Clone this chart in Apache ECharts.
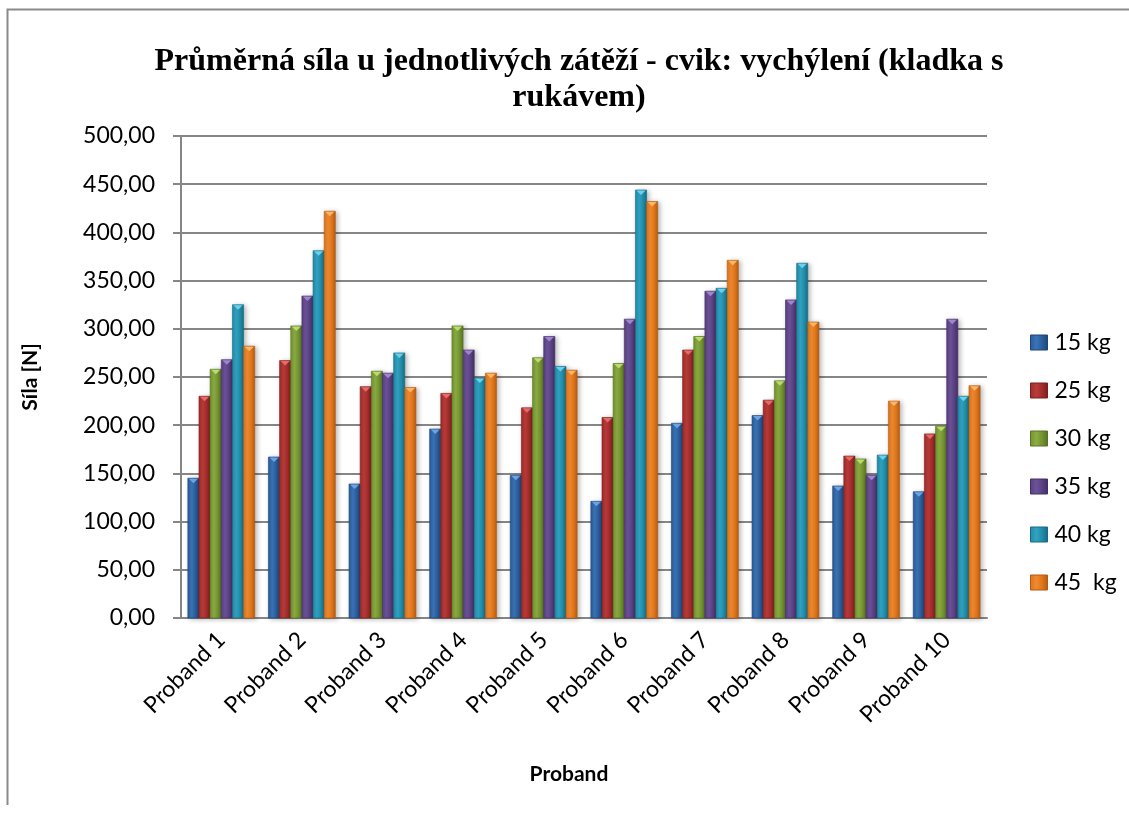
<!DOCTYPE html>
<html>
<head>
<meta charset="utf-8">
<script src="https://cdn.jsdelivr.net/npm/echarts@6/dist/echarts.min.js"></script>
<style>
  html, body { margin: 0; padding: 0; background: #ffffff; }
  #chart { width: 1129px; height: 815px; }
</style>
</head>
<body>
<div id="chart"></div>
<script>
// Categories and tick labels
const probands = ['Proband 1', 'Proband 2', 'Proband 3', 'Proband 4', 'Proband 5',
                  'Proband 6', 'Proband 7', 'Proband 8', 'Proband 9', 'Proband 10'];
const seriesNames = ['15 kg', '25 kg', '30 kg', '35 kg', '40 kg', '45  kg'];

// Average force [N] per load
const load15 = [145, 167, 139, 196, 148, 121, 202, 210, 137, 131];
const load25 = [230, 267, 240, 233, 218, 208, 278, 226, 168, 191];
const load30 = [258, 303, 256, 303, 270, 264, 292, 246, 165, 199];
const load35 = [268, 334, 254, 278, 292, 310, 339, 330, 148, 310];
const load40 = [325, 381, 275, 249, 261, 444, 342, 368, 169, 230];
const load45 = [282, 422, 239, 254, 257, 432, 371, 307, 225, 241];

// Bevelled bar palette: [edge, light, dark, cap]
const palettes = [
  ['#2a5b98', '#3b74b8', '#1f4575', '#6aa3e6'],
  ['#9e2c2b', '#bb3b39', '#7a1f1f', '#e76a68'],
  ['#72912f', '#8bad42', '#587224', '#b9dc6a'],
  ['#584080', '#6d529a', '#432f63', '#a184d0'],
  ['#218aa6', '#31a4c3', '#186b82', '#68d2ee'],
  ['#dc741b', '#f08a30', '#b35b12', '#ffb565']
];

const values = [load15, load25, load30, load35, load40, load45];

// Share of a category band taken by one bar cluster
const clusterShare = 0.83;

function barFill(p) {
  return new echarts.graphic.LinearGradient(0, 0, 1, 0, [
    { offset: 0, color: p[0] },
    { offset: 0.35, color: p[1] },
    { offset: 0.7, color: p[0] },
    { offset: 1, color: p[2] }
  ]);
}

function makeRenderer(si) {
  const p = palettes[si];
  const n = values.length;
  return function (params, api) {
    const cat = api.value(0);
    const val = api.value(1);
    const base = api.coord([cat, 0]);
    const top = api.coord([cat, val]);
    const band = api.size([1, 0])[0];
    const groupW = band * clusterShare;
    const bw = groupW / n;
    const x0 = base[0] - groupW / 2 + si * bw;
    const h = base[1] - top[1];
    const capH = Math.min(5, h);
    return {
      type: 'group',
      children: [
        {
          type: 'rect',
          shape: { x: x0, y: top[1], width: bw, height: h },
          style: {
            fill: barFill(p),
            stroke: p[2],
            lineWidth: 0.6,
            shadowColor: 'rgba(0,0,0,0.28)',
            shadowBlur: 5,
            shadowOffsetX: 2,
            shadowOffsetY: 1
          }
        },
        {
          type: 'polygon',
          shape: {
            points: [
              [x0 + 1, top[1] + 0.5],
              [x0 + bw - 1, top[1] + 0.5],
              [x0 + bw / 2, top[1] + capH]
            ]
          },
          style: { fill: p[3] }
        }
      ]
    };
  };
}

const chart = echarts.init(document.getElementById('chart'), null, { renderer: 'canvas' });

const series = values.map((v, i) => ({
  name: seriesNames[i],
  type: 'custom',
  renderItem: makeRenderer(i),
  encode: { x: 0, y: 1 },
  itemStyle: { color: palettes[i][1] },
  data: v.map((val, k) => [k, val])
}));

chart.setOption({
  backgroundColor: '#ffffff',
  animation: false,
  title: {
    text: 'Průměrná síla u jednotlivých zátěží - cvik: vychýlení (kladka s\nrukávem)',
    left: 574,
    textAlign: 'center',
    top: 39,
    textStyle: {
      fontFamily: 'Liberation Serif',
      fontWeight: 'bold',
      fontSize: 32,
      lineHeight: 36,
      color: '#000000'
    }
  },
  legend: {
    orient: 'vertical',
    left: 1025,
    top: 326,
    itemWidth: 17,
    itemHeight: 15,
    itemGap: 25,
    icon: 'rect',
    data: seriesNames.map((n, i) => ({
      name: n,
      itemStyle: { color: barFill(palettes[i]), borderColor: palettes[i][2], borderWidth: 1 }
    })),
    textStyle: {
      fontFamily: 'Lato',
      fontSize: 23,
      lineHeight: 23,
      color: '#000000',
      padding: [0, 0, 0, 2]
    }
  },
  grid: {
    left: 181,
    right: 142,
    top: 136,
    bottom: 197,
    containLabel: false
  },
  xAxis: {
    type: 'category',
    data: probands,
    name: 'Proband',
    nameLocation: 'middle',
    nameGap: 146,
    nameTextStyle: {
      fontFamily: 'Lato',
      fontWeight: 'bold',
      fontSize: 21,
      color: '#000000',
      padding: [0, 30, 0, 0]
    },
    axisLine: { lineStyle: { color: '#868686', width: 2 } },
    axisTick: { show: false },
    axisLabel: {
      rotate: 45,
      margin: 18,
      fontFamily: 'Lato',
      fontSize: 23,
      color: '#000000',
      interval: 0
    }
  },
  yAxis: {
    type: 'value',
    min: 0,
    max: 500,
    interval: 50,
    name: 'Síla [N]',
    nameLocation: 'middle',
    nameGap: 140,
    nameTextStyle: {
      fontFamily: 'Lato',
      fontWeight: 'bold',
      fontSize: 21,
      color: '#000000'
    },
    axisLine: { show: true, lineStyle: { color: '#868686', width: 2 } },
    axisTick: { show: true, length: 8, lineStyle: { color: '#868686', width: 2 } },
    splitLine: { lineStyle: { color: '#868686', width: 2 } },
    axisLabel: {
      margin: 26,
      fontFamily: 'Lato',
      fontSize: 23,
      color: '#000000',
      formatter: v => v.toFixed(2).replace('.', ',')
    }
  },
  graphic: [
    {
      type: 'polyline',
      shape: { points: [[7.5, 805], [7.5, 9.5], [1129, 9.5]] },
      style: { stroke: '#8a8a8a', lineWidth: 2, fill: null },
      silent: true
    }
  ],
  series: series
});
</script>
</body>
</html>
